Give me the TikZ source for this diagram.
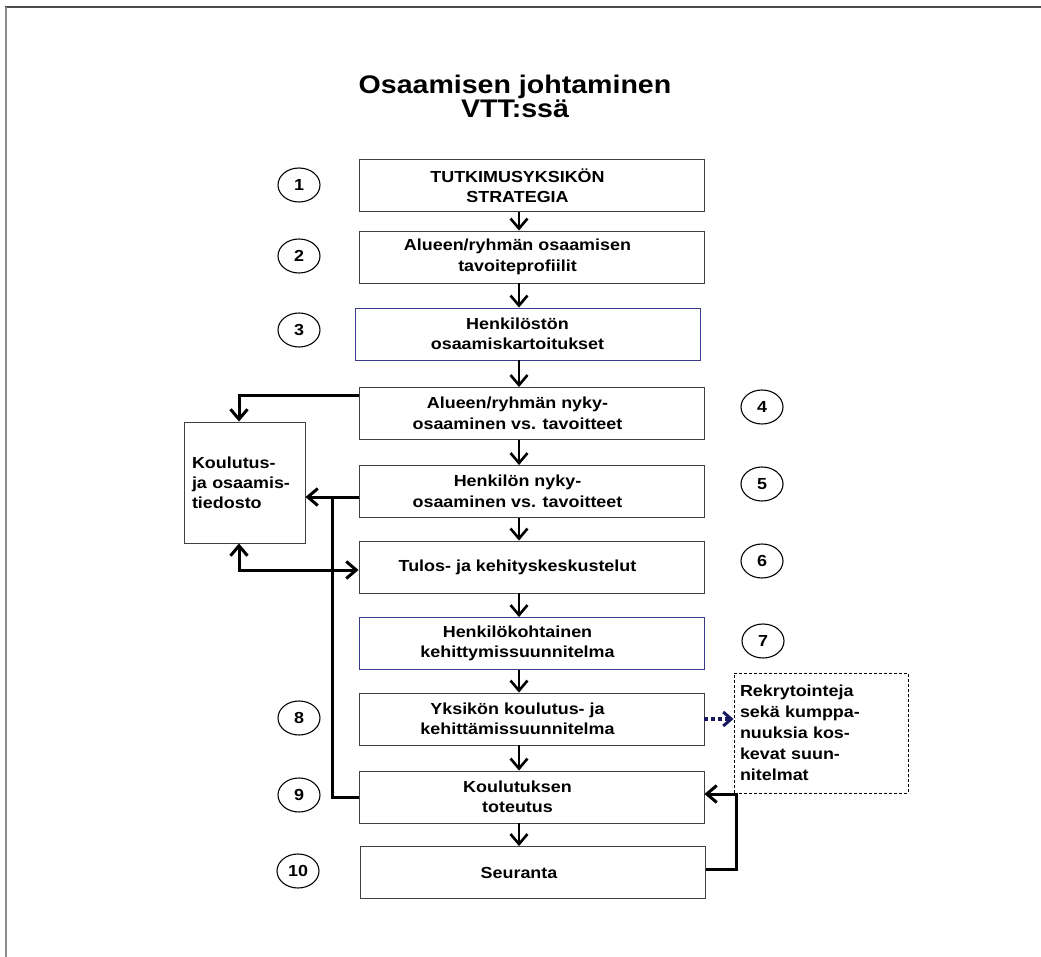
\documentclass[tikz,border=0pt]{standalone}
\usepackage{fontspec}
\setmainfont{Liberation Sans}[FakeStretch=1.12]
\usetikzlibrary{arrows.meta,shapes.geometric}

\definecolor{boxnavy}{RGB}{60,60,140}
\definecolor{dotnavy}{RGB}{25,25,95}

\tikzset{
  stage/.style={draw=black!75, line width=0.9pt, fill=white, minimum width=345pt,
    minimum height=52pt, inner sep=0pt},
  stagetxt/.style={font=\fontsize{16}{20.5}\selectfont\bfseries, align=center, xshift=-14pt},
  stepno/.style={ellipse, draw, line width=1.1pt, minimum width=42pt, minimum height=34pt,
    inner sep=0pt, font=\fontsize{16}{16}\selectfont\bfseries},
  link/.style={line width=3pt},
  tip/.tip={Straight Barb[length=10pt,width=17pt]},
  flow/.style={link, -tip},
}

\begin{document}
\begin{tikzpicture}[x=1pt,y=-1pt]
  \useasboundingbox (0,0) rectangle (1041,957);
  % page frame
  \draw[line width=2pt,black!70] (5,7) -- (1041,7);
  \draw[line width=2.5pt,black!45] (6,7) -- (6,957);

  \node[font=\fontsize{25.5}{24}\selectfont\bfseries, align=center] (title) at (515,96)
    {Osaamisen johtaminen\\VTT:ssä};

  % process steps
  \node[stage, label={[stagetxt]center:{TUTKIMUSYKSIKÖN\\STRATEGIA}}] (b1) at (531.5,185.5) {};
  \node[stage, label={[stagetxt]center:{Alueen/ryhmän osaamisen\\tavoiteprofiilit}}] (b2) at (531.5,257) {};
  \node[stage, draw=boxnavy, label={[stagetxt,xshift=4pt]center:{Henkilöstön\\osaamiskartoitukset}}] (b3) at (527.5,334) {};
  \node[stage, label={[stagetxt]center:{Alueen/ryhmän nyky-\\osaaminen vs. tavoitteet}}] (b4) at (531.5,413.5) {};
  \node[stage, label={[stagetxt]center:{Henkilön nyky-\\osaaminen vs. tavoitteet}}] (b5) at (531.5,491.5) {};
  \node[stage, label={[stagetxt]center:{Tulos- ja kehityskeskustelut}}] (b6) at (531.5,567) {};
  \node[stage, draw=boxnavy, label={[stagetxt]center:{Henkilökohtainen\\kehittymissuunnitelma}}] (b7) at (531.5,643.5) {};
  \node[stage, label={[stagetxt]center:{Yksikön koulutus- ja\\kehittämissuunnitelma}}] (b8) at (531.5,719) {};
  \node[stage, label={[stagetxt]center:{Koulutuksen\\toteutus}}] (b9) at (531.5,797) {};
  \node[stage, label={[stagetxt]center:{Seuranta}}] (b10) at (533,872.5) {};

  % side boxes
  \node[draw=black!75, line width=0.9pt, minimum width=121pt, minimum height=121pt,
    inner xsep=8pt, text width=105pt, align=left,
    font=\fontsize{16}{20}\selectfont\bfseries] (kt) at (244.5,482.5)
    {Koulutus-\\ja osaamis-\\tiedosto};
  \node[draw, line width=1pt, dash pattern=on 3pt off 2pt, minimum width=174pt, minimum height=120pt,
    inner xsep=6pt, text width=162pt, align=left,
    font=\fontsize{16}{21}\selectfont\bfseries] (rb) at (821,733)
    {Rekrytointeja\\sekä kumppa-\\nuuksia kos-\\kevat suun-\\nitelmat};

  % step numbers
  \foreach \n/\x/\y in {1/299/185, 2/299/256, 3/299/330, 4/762/407, 5/762/484,
      6/762/561, 7/763/641, 8/299/718, 9/299/795, 10/298/871}
    \node[stepno] (n\n) at (\x,\y) {\n};

  % main flow
  \coordinate (ax) at (519,0);
  \foreach \a/\b in {b1/b2, b2/b3, b3/b4, b4/b5, b5/b6, b6/b7, b7/b8, b8/b9, b9/b10}
    \draw[flow, line width=2.6pt] (\a.south -| ax) -- (\b.north -| ax);

  % links to the training file
  \coordinate (jn) at (332,497);
  \draw[flow] ([yshift=18.5pt]b4.west) -| ([xshift=-5.5pt]kt.north);
  \draw[flow] ([yshift=-5.5pt]b5.west) -- (kt.east |- jn);
  \draw[link] (b9.west) -| (jn);
  \draw[link, tip-tip] ([xshift=-5.5pt]kt.south) |- ([yshift=-3pt]b6.west);

  % feedback and plans
  \coordinate (rx) at (736,0);
  \draw[flow] ([yshift=3.5pt]b10.east) -| ([yshift=3pt]b9.east -| rx) -- ([yshift=3pt]b9.east);
  \draw[dotnavy, line width=4pt, dash pattern=on 4pt off 3pt, -{Straight Barb[length=8pt,width=14pt,line width=3pt]}]
    (b8.east) -- (rb.west |- b8.east);
\end{tikzpicture}
\end{document}
